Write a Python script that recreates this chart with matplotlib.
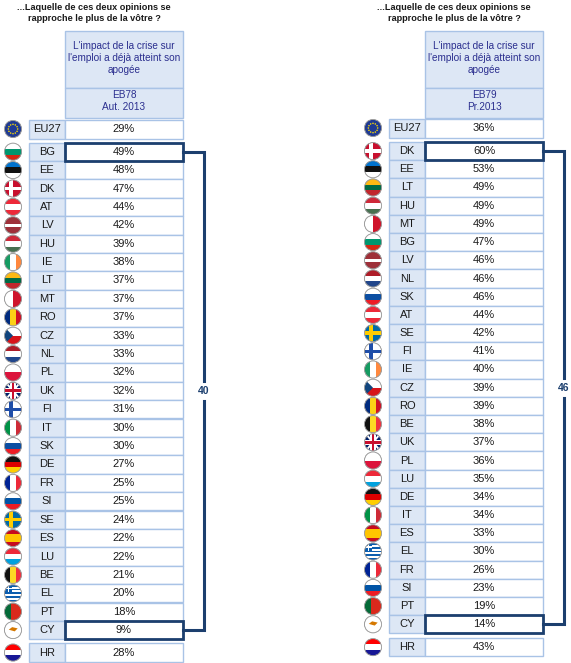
import matplotlib
matplotlib.use("Agg")
import matplotlib.pyplot as plt
from matplotlib.patches import Rectangle, Circle, Polygon
import numpy as np

plt.rcParams['font.family'] = ['Liberation Sans', 'DejaVu Sans']

title = "...Laquelle de ces deux opinions se\nrapproche le plus de la vôtre ?"
header = "L'impact de la crise sur\nl'emploi a déjà atteint son\napogée"

left_wave = "EB78\nAut. 2013"
left_countries = ['BG', 'EE', 'DK', 'AT', 'LV', 'HU', 'IE', 'LT', 'MT', 'RO', 'CZ', 'NL', 'PL', 'UK',
                  'FI', 'IT', 'SK', 'DE', 'FR', 'SI', 'SE', 'ES', 'LU', 'BE', 'EL', 'PT', 'CY']
left_values = [49, 48, 47, 44, 42, 39, 38, 37, 37, 37, 33, 33, 32, 32,
               31, 30, 30, 27, 25, 25, 24, 22, 22, 21, 20, 18, 9]
left_eu = 29
left_hr = 28
left_gap = 40

right_wave = "EB79\nPr.2013"
right_countries = ['DK', 'EE', 'LT', 'HU', 'MT', 'BG', 'LV', 'NL', 'SK', 'AT', 'SE', 'FI', 'IE', 'CZ',
                   'RO', 'BE', 'UK', 'PL', 'LU', 'DE', 'IT', 'ES', 'EL', 'FR', 'SI', 'PT', 'CY']
right_values = [60, 53, 49, 49, 49, 47, 46, 46, 46, 44, 42, 41, 40, 39,
                39, 38, 37, 36, 35, 34, 34, 33, 30, 26, 23, 19, 14]
right_eu = 36
right_hr = 43
right_gap = 46

LIGHT = '#dde7f5'
EDGE = '#a9c3e6'
NAVY = '#1c3f6e'
HEAD_TXT = '#2b2f8f'

FLAGS = {
    'BG': ('h', ['#ffffff', '#00966e', '#d62612']),
    'EE': ('h', ['#0072ce', '#111111', '#ffffff']),
    'AT': ('h', ['#ed2939', '#ffffff', '#ed2939']),
    'LV': ('h', ['#9e3039', '#9e3039', '#ffffff', '#9e3039', '#9e3039']),
    'HU': ('h', ['#ce2939', '#ffffff', '#477050']),
    'IE': ('v', ['#169b62', '#ffffff', '#ff883e']),
    'LT': ('h', ['#fdb913', '#006a44', '#c1272d']),
    'MT': ('v', ['#ffffff', '#cf142b']),
    'RO': ('v', ['#002b7f', '#fcd116', '#ce1126']),
    'NL': ('h', ['#ae1c28', '#ffffff', '#21468b']),
    'PL': ('h', ['#ffffff', '#dc143c']),
    'IT': ('v', ['#009246', '#ffffff', '#ce2b37']),
    'SK': ('h', ['#ffffff', '#0b4ea2', '#ee1c25']),
    'DE': ('h', ['#111111', '#dd0000', '#ffce00']),
    'FR': ('v', ['#002395', '#ffffff', '#ed2939']),
    'SI': ('h', ['#ffffff', '#0054a6', '#ed1c24']),
    'ES': ('h', ['#c60b1e', '#ffc400', '#ffc400', '#c60b1e']),
    'LU': ('h', ['#ed2939', '#ffffff', '#00a1de']),
    'BE': ('v', ['#111111', '#fdda24', '#ef3340']),
    'PT': ('v', ['#046a38', '#046a38', '#da291c', '#da291c', '#da291c']),
    'HR': ('h', ['#ff0000', '#ffffff', '#171796']),
    'EL': ('h', ['#0d5eaf', '#ffffff'] * 4 + ['#0d5eaf']),
    'CY': ('h', ['#ffffff']),
}


def draw_flag(ax, cx, cy, r, code):
    circ = Circle((cx, cy), r, facecolor='white', edgecolor='#b0b0b0', lw=0.6, zorder=3)
    ax.add_patch(circ)
    clip = Circle((cx, cy), r, transform=ax.transData)

    def rect(x, y, w, h, c):
        p = Rectangle((x, y), w, h, facecolor=c, edgecolor='none', zorder=4)
        ax.add_patch(p)
        p.set_clip_path(clip)

    if code == 'EU27':
        rect(cx - r, cy - r, 2 * r, 2 * r, '#1f3a93')
        for a in np.linspace(0, 2 * np.pi, 12, endpoint=False):
            ax.add_patch(Circle((cx + 0.55 * r * np.cos(a), cy + 0.55 * r * np.sin(a)), 0.09 * r,
                                facecolor='#ffdd00', edgecolor='none', zorder=5))
    elif code in ('DK', 'FI', 'SE'):
        bg, cr = {'DK': ('#c8102e', '#ffffff'), 'FI': ('#ffffff', '#1f4ea8'),
                  'SE': ('#006aa7', '#fecc00')}[code]
        rect(cx - r, cy - r, 2 * r, 2 * r, bg)
        rect(cx - r, cy - 0.2 * r, 2 * r, 0.4 * r, cr)
        rect(cx - 0.45 * r, cy - r, 0.4 * r, 2 * r, cr)
    elif code == 'UK':
        rect(cx - r, cy - r, 2 * r, 2 * r, '#012169')
        for s in (1, -1):
            p = Polygon([(cx - r, cy - s * r), (cx - r + 0.3 * r, cy - s * r),
                         (cx + r, cy + s * r), (cx + r - 0.3 * r, cy + s * r)],
                        facecolor='#ffffff', edgecolor='none', zorder=4)
            ax.add_patch(p)
            p.set_clip_path(clip)
        rect(cx - r, cy - 0.3 * r, 2 * r, 0.6 * r, '#ffffff')
        rect(cx - 0.3 * r, cy - r, 0.6 * r, 2 * r, '#ffffff')
        rect(cx - r, cy - 0.17 * r, 2 * r, 0.34 * r, '#c8102e')
        rect(cx - 0.17 * r, cy - r, 0.34 * r, 2 * r, '#c8102e')
    elif code == 'CZ':
        rect(cx - r, cy - r, 2 * r, r, '#ffffff')
        rect(cx - r, cy, 2 * r, r, '#d7141a')
        p = Polygon([(cx - r, cy - r), (cx, cy), (cx - r, cy + r)],
                    facecolor='#11457e', edgecolor='none', zorder=4)
        ax.add_patch(p)
        p.set_clip_path(clip)
    else:
        kind, cols = FLAGS[code]
        n = len(cols)
        for i, c in enumerate(cols):
            if kind == 'h':
                rect(cx - r, cy - r + i * 2 * r / n, 2 * r, 2 * r / n, c)
            else:
                rect(cx - r + i * 2 * r / n, cy - r, 2 * r / n, 2 * r, c)
        if code == 'CY':
            ax.add_patch(Polygon([(cx - 0.5 * r, cy - 0.05 * r), (cx - 0.1 * r, cy - 0.35 * r),
                                  (cx + 0.55 * r, cy - 0.2 * r), (cx + 0.2 * r, cy + 0.15 * r)],
                                 facecolor='#d57800', edgecolor='none', zorder=5))
        if code == 'EL':
            rect(cx - r, cy - r, 0.9 * r, 0.9 * r, '#0d5eaf')
            rect(cx - r, cy - r + 0.36 * r, 0.9 * r, 0.18 * r, '#ffffff')
            rect(cx - r + 0.36 * r, cy - r, 0.18 * r, 0.9 * r, '#ffffff')
        if code == 'HR':
            for i in range(3):
                for j in range(2):
                    if (i + j) % 2 == 0:
                        rect(cx - 0.3 * r + i * 0.2 * r, cy - 0.3 * r + j * 0.25 * r,
                             0.2 * r, 0.25 * r, '#ffffff')
    ax.add_patch(Circle((cx, cy), r, facecolor='none', edgecolor='#9a9a9a', lw=0.6, zorder=6))


def panel(ax, x0, wave, countries, values, eu, hr, gap, rh, eu_top, first_top, hr_gap):
    lab_x, lab_w = x0 + 29, 36
    val_x, val_w = x0 + 65, 118
    flag_x = x0 + 13
    # title
    ax.text(val_x + val_w / 2 - 30, 13, title, ha='center', va='center', fontsize=6.6,
            fontweight='bold', color='#1a1a1a', linespacing=1.4)
    # header
    ax.add_patch(Rectangle((val_x, 31), val_w, 57, facecolor=LIGHT, edgecolor=EDGE, lw=1))
    ax.add_patch(Rectangle((val_x, 88), val_w, 30, facecolor=LIGHT, edgecolor=EDGE, lw=1))
    ax.text(val_x + val_w / 2, 58, header, ha='center', va='center', fontsize=7.2,
            color=HEAD_TXT, linespacing=1.3)
    ax.text(val_x + val_w / 2, 101, wave, ha='center', va='center', fontsize=7.2,
            color=HEAD_TXT, linespacing=1.3)

    def row(top, code, val, h):
        ax.add_patch(Rectangle((lab_x, top), lab_w, h, facecolor=LIGHT, edgecolor=EDGE, lw=1))
        ax.add_patch(Rectangle((val_x, top), val_w, h, facecolor='white', edgecolor=EDGE, lw=1))
        ax.text(lab_x + lab_w / 2, top + h / 2, code, ha='center', va='center', fontsize=8,
                color='#1a1a1a')
        ax.text(val_x + val_w / 2, top + h / 2, f"{val}%", ha='center', va='center', fontsize=8,
                color='#1a1a1a')
        draw_flag(ax, flag_x, top + h / 2, 8.5, code)

    row(eu_top, 'EU27', eu, 19)
    for i, (c, v) in enumerate(zip(countries, values)):
        row(first_top + i * rh, c, v, rh)
    last_top = first_top + (len(countries) - 1) * rh
    row(last_top + rh + hr_gap, 'HR', hr, 18.5)

    # highlight boxes
    for top in (first_top, last_top):
        ax.add_patch(Rectangle((val_x, top), val_w, rh, facecolor='none', edgecolor=NAVY,
                               lw=2, zorder=7))
    # bracket
    bx = val_x + val_w + 21
    y1 = first_top + rh / 2
    y2 = last_top + rh / 2
    ym = (y1 + y2) / 2
    ax.plot([val_x + val_w, bx, bx], [y1, y1, ym - 10], color=NAVY, lw=2.2,
            solid_joinstyle='miter', zorder=7)
    ax.plot([bx, bx, val_x + val_w], [ym + 10, y2, y2], color=NAVY, lw=2.2,
            solid_joinstyle='miter', zorder=7)
    ax.text(bx, ym, str(gap), ha='center', va='center', fontsize=7.5, fontweight='bold',
            color=NAVY)


fig = plt.figure(figsize=(5.71, 6.63), dpi=100)
ax = fig.add_axes([0, 0, 1, 1])
ax.set_xlim(0, 571)
ax.set_ylim(663, 0)
ax.axis('off')

panel(ax, 0, left_wave, left_countries, left_values, left_eu, left_hr, left_gap,
      18.4, 119.5, 142.5, 4)
panel(ax, 360, right_wave, right_countries, right_values, right_eu, right_hr, right_gap,
      18.2, 118.5, 142, 4.5)

fig.savefig("out.png", dpi=100)
